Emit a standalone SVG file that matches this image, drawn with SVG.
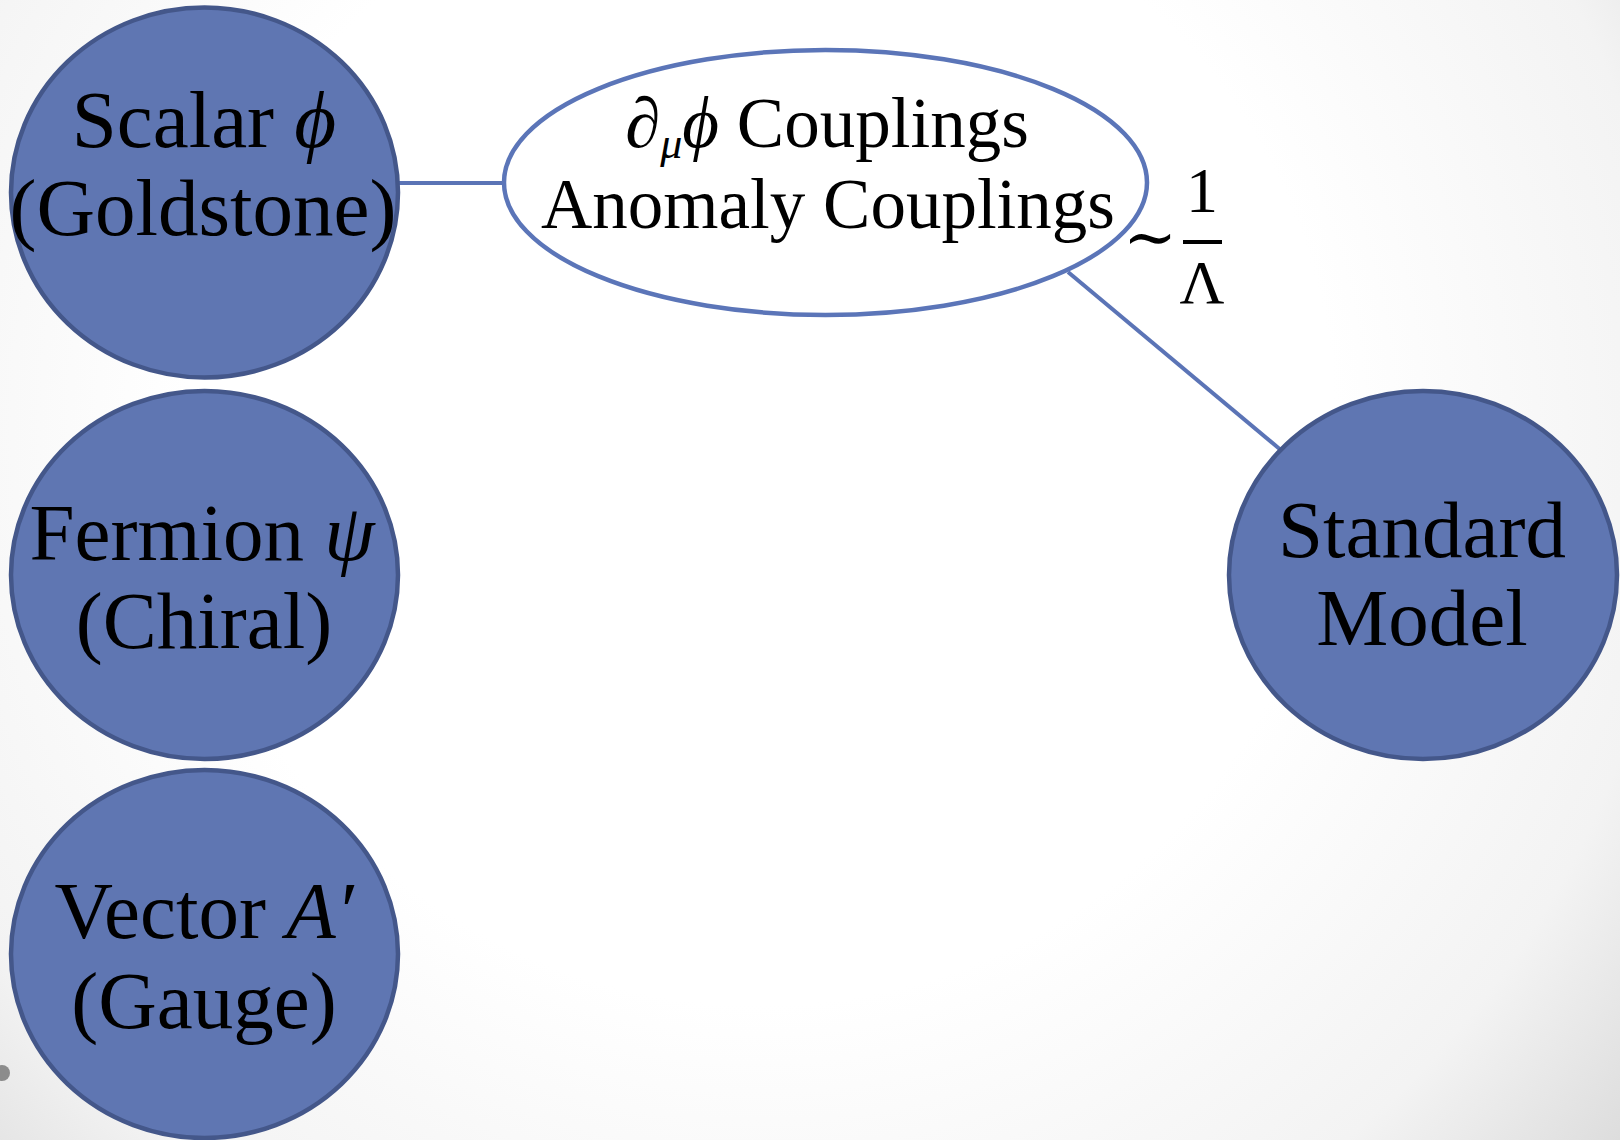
<svg xmlns="http://www.w3.org/2000/svg" width="1620" height="1140" viewBox="0 0 1620 1140">
  <defs>
    <radialGradient id="bg" gradientUnits="userSpaceOnUse" cx="760" cy="430" r="1150">
      <stop offset="0" stop-color="#ffffff"/>
      <stop offset="0.5" stop-color="#ffffff"/>
      <stop offset="0.8" stop-color="#f3f3f3"/>
      <stop offset="1" stop-color="#d9d9d9"/>
    </radialGradient>
    <style>
      .node { fill: #5f76b2; stroke: #44578a; stroke-width: 4.5; }
      .bubble { fill: #ffffff; stroke: #5b75b8; stroke-width: 4.5; }
      .conn { stroke: #5b74b6; stroke-width: 4; fill: none; }
      .t { font-family: "Liberation Serif", "DejaVu Serif", serif; fill: #000000; text-anchor: middle; }
      .big { font-size: 81px; }
      .mid { font-size: 71px; }
      .it { font-style: italic; }
    </style>
  </defs>
  <rect x="0" y="0" width="1620" height="1140" fill="url(#bg)"/>
  <circle cx="2" cy="1073" r="8" fill="#8c8c8c"/>

  <g id="connectors">
    <line class="conn" x1="396" y1="183" x2="506" y2="183"/>
    <line class="conn" x1="1068" y1="272" x2="1282" y2="451"/>
  </g>

  <g id="scalar">
    <ellipse class="node" cx="204.5" cy="192.5" rx="193.5" ry="185"/>
    <text class="t big" x="204" y="147">Scalar <tspan class="it">ϕ</tspan></text>
    <text class="t big" x="203" y="235">(Goldstone)</text>
  </g>

  <g id="fermion">
    <ellipse class="node" cx="204.5" cy="575" rx="193.5" ry="184"/>
    <text class="t big" x="202" y="560">Fermion <tspan class="it">ψ</tspan></text>
    <text class="t big" x="204" y="648">(Chiral)</text>
  </g>

  <g id="vector">
    <ellipse class="node" cx="204.5" cy="954" rx="193.5" ry="184"/>
    <text class="t big" x="204" y="938">Vector <tspan class="it">A′</tspan></text>
    <text class="t big" x="204" y="1028">(Gauge)</text>
  </g>

  <g id="standard-model">
    <ellipse class="node" cx="1423" cy="575" rx="194" ry="184"/>
    <text class="t big" x="1422" y="557">Standard</text>
    <text class="t big" x="1422" y="645">Model</text>
  </g>

  <g id="couplings">
    <ellipse class="bubble" cx="825.5" cy="182.5" rx="321.5" ry="132.5"/>
    <text class="t mid" x="827" y="147"><tspan class="it">∂</tspan><tspan class="it" font-size="44" dy="11">μ</tspan><tspan class="it" dy="-11">ϕ</tspan> Couplings</text>
    <text class="t mid" x="828" y="228">Anomaly Couplings</text>
  </g>

  <g id="scale-label">
    <text class="t" font-size="64" x="1150" y="259">∼</text>
    <text class="t" font-size="64" x="1202" y="212">1</text>
    <rect x="1183" y="240" width="39" height="4" fill="#000000"/>
    <text class="t" font-size="62" x="1202" y="303">Λ</text>
  </g>
</svg>
